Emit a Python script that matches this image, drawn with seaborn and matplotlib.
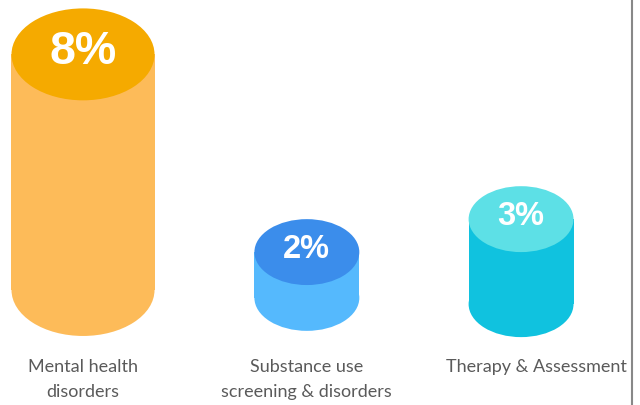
import matplotlib
matplotlib.use("Agg")
import matplotlib.pyplot as plt
from matplotlib.patches import Ellipse
import seaborn as sns

sns.set_theme(style="white")

categories = ["Mental health\ndisorders", "Substance use\nscreening & disorders", "Therapy & Assessment"]
values = [8, 2, 3]
value_labels = ["8%", "2%", "3%"]

side_colors = ["#FDBB59", "#55B9FD", "#10C2DF"]
top_colors = ["#F5AA00", "#3B8DEB", "#5DE0E6"]

# cylinder shape (data units)
widths = [0.653, 0.479, 0.479]
cap_heights = [2.79, 2.0, 2.0]
floors = [0.85, 0.61, 0.42]
x_shift = [0.0, 0.022, 0.0]
value_sizes = [33.5, 23.5, 23.5]
label_dx = [0.0, 0.022, 0.07]

fig = plt.figure(figsize=(6.4, 4.05), dpi=100)
ax = fig.add_axes([0, 0, 1, 1])

sns.barplot(x=categories, y=values, hue=categories, palette=side_colors,
            saturation=1, legend=False, ax=ax, linewidth=0)

for p in ax.patches:
    i = int(round(p.get_x() + p.get_width() / 2))
    w = widths[i]
    h = p.get_height()
    cx = i + x_shift[i]
    p.set_x(cx - w / 2)
    p.set_width(w)
    p.set_y(floors[i])
    p.set_height(h - floors[i])
    p.set_zorder(2)
    ax.add_patch(Ellipse((cx, floors[i]), w, cap_heights[i], color=side_colors[i], lw=0, zorder=2))
    ax.add_patch(Ellipse((cx, h), w, cap_heights[i], color=top_colors[i], lw=0, zorder=3))
    ax.text(cx, h + 0.07, value_labels[i], color="white", fontsize=value_sizes[i],
            fontweight="bold", family="Liberation Sans", ha="center", va="center", zorder=4)

for i, lab in enumerate(categories):
    ax.text(i + label_dx[i], -1.25, lab, ha="center", va="top", fontsize=13,
            family="Lato", fontweight="normal", color="#5a5a5a", linespacing=1.65)

ax.set_xlim(-0.379, 2.543)
ax.set_ylim(-2.64, 9.65)
ax.axis("off")
ax.plot([0.9875, 0.9875], [0, 1], transform=ax.transAxes, color="#888888", lw=1.5)

fig.savefig("out.png", dpi=100)
